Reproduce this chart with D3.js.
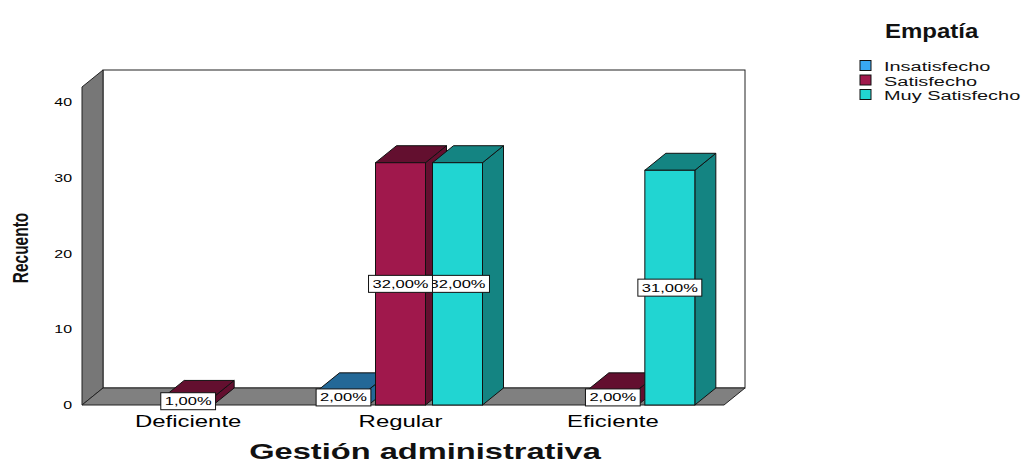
<!DOCTYPE html>
<html>
<head>
<meta charset="utf-8">
<script src="https://cdn.jsdelivr.net/npm/d3@7"></script>
<style>
  html, body { margin: 0; padding: 0; background: #ffffff; }
  svg { display: block; font-family: "Liberation Sans", Arial, sans-serif; }
</style>
</head>
<body>
<svg id="chart" width="1021" height="464"></svg>
<script>
// Recuento por nivel de gestión administrativa, agrupado por empatía
const categories = ["Deficiente", "Regular", "Eficiente"];
const seriesNames = ["Insatisfecho", "Satisfecho", "Muy Satisfecho"];
const insatisfecho = [0, 2, 0];
const satisfecho = [1, 32, 2];
const muySatisfecho = [0, 32, 31];
const seriesColors = ["#38a8f4", "#a0184c", "#21d5d2"];
const yTicks = [0, 10, 20, 30, 40];
const xTitle = "Gestión administrativa";
const yTitle = "Recuento";
const legendTitle = "Empatía";

const seriesValues = [insatisfecho, satisfecho, muySatisfecho];
const total = d3.sum(seriesValues.flat());

const svg = d3.select("#chart");
const stretch = 1.45;          // horizontal text stretch
const depth = { dx: 21, dy: 17 };
const frame = { left: 82, right: 724, top: 87, bottom: 405 };

const x = d3.scaleBand().domain(categories).range([frame.left, frame.right - 5]);
const xs = d3.scaleBand().domain(seriesNames).range([-82, 82]).paddingInner(0.123);
const y = d3.scaleLinear().domain([0, 42]).range([frame.bottom, frame.top]);

const locale = d3.formatLocale({ decimal: ",", thousands: ".", grouping: [3], currency: ["", "€"] });
const pct = v => locale.format(".2f")(v / total * 100) + "%";

// ---- 3D frame: back wall, left wall, floor ----
const g = svg.append("g");
g.append("rect")
  .attr("x", frame.left + depth.dx).attr("y", frame.top - depth.dy)
  .attr("width", frame.right - frame.left)
  .attr("height", frame.bottom - frame.top)
  .attr("fill", "#ffffff").attr("stroke", "#222").attr("stroke-width", 1);

const poly = pts => pts.map(p => p.join(",")).join(" ");
g.append("polygon")
  .attr("points", poly([
    [frame.left, frame.top], [frame.left + depth.dx, frame.top - depth.dy],
    [frame.left + depth.dx, frame.bottom - depth.dy], [frame.left, frame.bottom]
  ]))
  .attr("fill", "#777777").attr("stroke", "#222").attr("stroke-width", 1);
g.append("polygon")
  .attr("points", poly([
    [frame.left, frame.bottom], [frame.left + depth.dx, frame.bottom - depth.dy],
    [frame.right + depth.dx, frame.bottom - depth.dy], [frame.right, frame.bottom]
  ]))
  .attr("fill", "#808080").attr("stroke", "#222").attr("stroke-width", 1);

// ---- bars ----
const bars = [];
categories.forEach((cat, ci) => {
  seriesNames.forEach((s, si) => {
    const v = seriesValues[si][ci];
    if (v > 0) bars.push({ cat, s, si, v });
  });
});

const barG = svg.append("g");
bars.forEach(b => {
  const x0 = x(b.cat) + x.bandwidth() / 2 + xs(b.s);
  const w = xs.bandwidth();
  const yTop = y(b.v), yBase = y(0);
  const front = seriesColors[b.si];
  const shade = d3.color(front).darker(1.35).formatHex();
  const bg = barG.append("g");
  bg.append("polygon")
    .attr("points", poly([[x0 + w, yTop], [x0 + w + depth.dx, yTop - depth.dy],
                          [x0 + w + depth.dx, yBase - depth.dy], [x0 + w, yBase]]))
    .attr("fill", shade).attr("stroke", "#111").attr("stroke-width", 1);
  bg.append("polygon")
    .attr("points", poly([[x0, yTop], [x0 + depth.dx, yTop - depth.dy],
                          [x0 + w + depth.dx, yTop - depth.dy], [x0 + w, yTop]]))
    .attr("fill", shade).attr("stroke", "#111").attr("stroke-width", 1);
  bg.append("rect")
    .attr("x", x0).attr("y", yTop).attr("width", w).attr("height", yBase - yTop)
    .attr("fill", front).attr("stroke", "#111").attr("stroke-width", 1);
  b.cx = x0 + w / 2;
  b.cy = (yTop + yBase) / 2;
});

// ---- value labels (drawn right to left so left boxes sit on top) ----
const labG = svg.append("g");
bars.slice().reverse().forEach(b => {
  const lg = labG.append("g").attr("transform", `translate(${b.cx},${b.cy})`);
  const box = lg.append("rect").attr("fill", "#fff").attr("stroke", "#111").attr("stroke-width", 1);
  const t = lg.append("text")
    .attr("transform", `scale(1.5,1)`)
    .attr("text-anchor", "middle").attr("dy", "0.36em")
    .attr("font-size", 11).attr("fill", "#000")
    .text(pct(b.v));
  const tw = t.node().getComputedTextLength() * 1.5;
  box.attr("x", -tw / 2 - 4).attr("y", -8.5).attr("width", tw + 8).attr("height", 17);
});

// ---- y axis ----
const yAxis = svg.append("g")
  .attr("transform", `translate(${frame.left},0)`)
  .call(d3.axisLeft(y).tickValues(yTicks).tickSize(0).tickPadding(10));
yAxis.select(".domain").remove();
yAxis.selectAll("text")
  .attr("font-size", 11).attr("font-family", "Liberation Sans, Arial, sans-serif")
  .attr("fill", "#000")
  .attr("x", -10 / stretch)
  .attr("transform", `scale(${stretch},1)`);

// ---- x axis labels ----
const xAxis = svg.append("g")
  .attr("transform", `translate(0,${frame.bottom})`)
  .call(d3.axisBottom(x).tickSize(0).tickPadding(0));
xAxis.select(".domain").remove();
xAxis.selectAll(".tick text")
  .attr("font-size", 16.5).attr("font-family", "Liberation Sans, Arial, sans-serif")
  .attr("fill", "#000")
  .attr("y", 22).attr("dy", 0)
  .attr("transform", `scale(${stretch},1)`);

// ---- axis titles ----
svg.append("text")
  .attr("transform", `translate(425,459) scale(${stretch},1)`)
  .attr("text-anchor", "middle").attr("font-size", 22.5).attr("font-weight", "bold")
  .attr("fill", "#111")
  .text(xTitle);

svg.append("text")
  .attr("transform", `translate(28,248) scale(${stretch},1) rotate(-90)`)
  .attr("text-anchor", "middle").attr("font-size", 15.5).attr("font-weight", "bold")
  .attr("fill", "#111")
  .text(yTitle);

// ---- legend ----
const leg = svg.append("g");
leg.append("text")
  .attr("transform", "translate(885,38) scale(1.2,1)")
  .attr("font-size", 20).attr("font-weight", "bold").attr("fill", "#111")
  .text(legendTitle);
seriesNames.forEach((s, i) => {
  const by = 71 + i * 14.5;
  leg.append("rect")
    .attr("x", 860).attr("y", by - 10.5).attr("width", 11).attr("height", 10)
    .attr("fill", seriesColors[i]).attr("stroke", "#111").attr("stroke-width", 1);
  leg.append("text")
    .attr("transform", `translate(884,${by}) scale(1.5,1)`)
    .attr("font-size", 13.3).attr("fill", "#111")
    .text(s);
});
</script>
</body>
</html>
